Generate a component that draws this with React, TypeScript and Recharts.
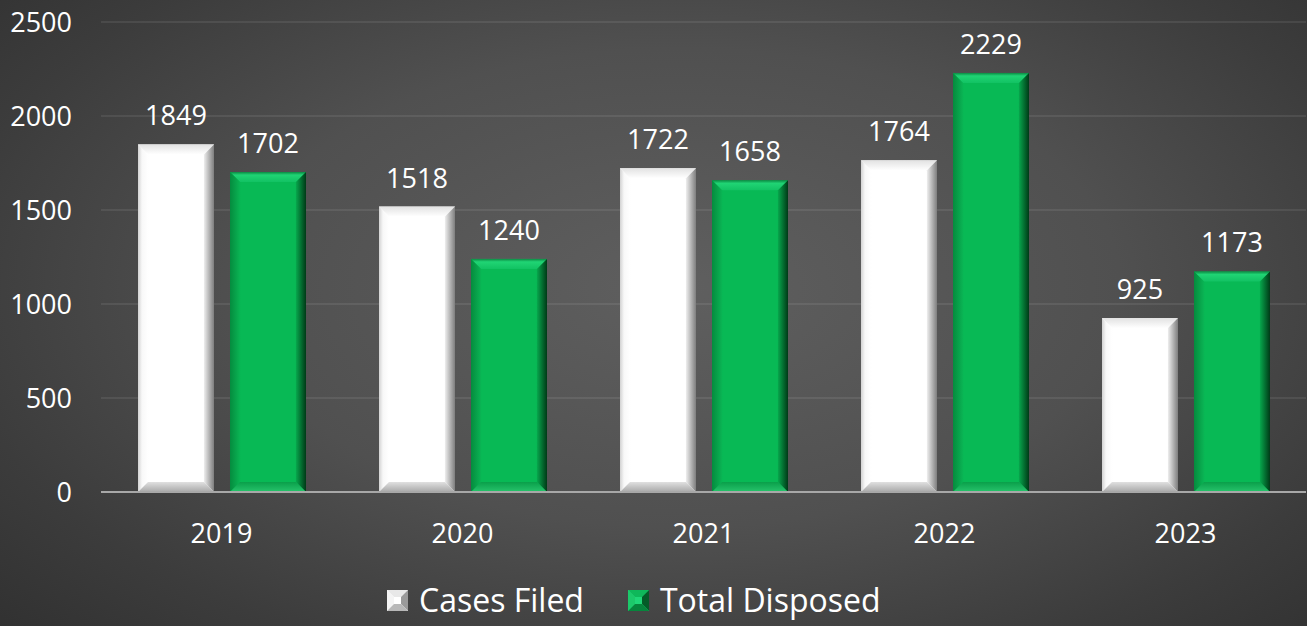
import React from "react";
import { Bar, BarChart, CartesianGrid, LabelList, Legend, XAxis, YAxis } from "recharts";

const years = ["2019", "2020", "2021", "2022", "2023"];
const casesFiled = [1849, 1518, 1722, 1764, 925];
const totalDisposed = [1702, 1240, 1658, 2229, 1173];
const yTicks = [0, 500, 1000, 1500, 2000, 2500];

const data = years.map((year, i) => ({ year, filed: casesFiled[i], disposed: totalDisposed[i] }));

const font = '"Open Sans", "Noto Sans", sans-serif';
const tick = { fill: "#ffffff", fontSize: 27 };

// bevelled bar, like the office "3-D bevel" fill
function BevelBar(props: any) {
  const { x, y, width: w, height: h, kind } = props;
  if (!h || h <= 0) return null;
  const b = Math.min(10, h / 2);
  const p = kind;
  return (
    <g>
      <rect x={x} y={y} width={w} height={h} fill={`url(#${p}-face)`} />
      <polygon
        points={`${x},${y} ${x + w},${y} ${x + w - b},${y + b} ${x + b},${y + b}`}
        fill={`url(#${p}-top)`}
      />
      <polygon
        points={`${x},${y} ${x + b},${y + b} ${x + b},${y + h - b} ${x},${y + h}`}
        fill={`url(#${p}-left)`}
      />
      <polygon
        points={`${x + w},${y} ${x + w},${y + h} ${x + w - b},${y + h - b} ${x + w - b},${y + b}`}
        fill={`url(#${p}-right)`}
      />
      <polygon
        points={`${x},${y + h} ${x + b},${y + h - b} ${x + w - b},${y + h - b} ${x + w},${y + h}`}
        fill={`url(#${p}-bottom)`}
      />
    </g>
  );
}

function Gradients() {
  return (
    <svg width={0} height={0} style={{ position: "absolute" }}>
      <defs>
        <linearGradient id="white-face" x1="0" y1="0" x2="1" y2="0">
          <stop offset="0%" stopColor="#fbfbfb" />
          <stop offset="15%" stopColor="#ffffff" />
          <stop offset="85%" stopColor="#ffffff" />
          <stop offset="100%" stopColor="#efefef" />
        </linearGradient>
        <linearGradient id="white-top" x1="0" y1="0" x2="0" y2="1">
          <stop offset="0%" stopColor="#e2e2e2" />
          <stop offset="100%" stopColor="#ffffff" />
        </linearGradient>
        <linearGradient id="white-left" x1="0" y1="0" x2="1" y2="0">
          <stop offset="0%" stopColor="#d2d2d2" />
          <stop offset="40%" stopColor="#f8f8f8" />
          <stop offset="100%" stopColor="#ffffff" />
        </linearGradient>
        <linearGradient id="white-right" x1="0" y1="0" x2="1" y2="0">
          <stop offset="0%" stopColor="#eeeeee" />
          <stop offset="100%" stopColor="#7e7e7e" />
        </linearGradient>
        <linearGradient id="white-bottom" x1="0" y1="0" x2="0" y2="1">
          <stop offset="0%" stopColor="#e0e0e0" />
          <stop offset="100%" stopColor="#a8a8a8" />
        </linearGradient>

        <linearGradient id="green-face" x1="0" y1="0" x2="1" y2="0">
          <stop offset="0%" stopColor="#06a94c" />
          <stop offset="15%" stopColor="#08b955" />
          <stop offset="85%" stopColor="#08b955" />
          <stop offset="100%" stopColor="#069e47" />
        </linearGradient>
        <linearGradient id="green-top" x1="0" y1="0" x2="0" y2="1">
          <stop offset="0%" stopColor="#0b8a43" />
          <stop offset="30%" stopColor="#20d474" />
          <stop offset="100%" stopColor="#12c263" />
        </linearGradient>
        <linearGradient id="green-left" x1="0" y1="0" x2="1" y2="0">
          <stop offset="0%" stopColor="#058b3e" />
          <stop offset="100%" stopColor="#0ab454" />
        </linearGradient>
        <linearGradient id="green-right" x1="0" y1="0" x2="1" y2="0">
          <stop offset="0%" stopColor="#07a64c" />
          <stop offset="100%" stopColor="#003a17" />
        </linearGradient>
        <linearGradient id="green-bottom" x1="0" y1="0" x2="0" y2="1">
          <stop offset="0%" stopColor="#0a9f4a" />
          <stop offset="100%" stopColor="#27c46c" />
        </linearGradient>
      </defs>
    </svg>
  );
}

function LegendIcon({ kind }: { kind: string }) {
  const s = 21;
  const b = 7;
  const c = kind === "white" ? ["#e8e8e8", "#f4f4f4", "#9a9a9a", "#b8b8b8", "#ffffff"] : ["#0fb85a", "#1cc96a", "#045c28", "#06853c", "#1fd777"];
  return (
    <svg width={s} height={s} style={{ display: "block" }}>
      <rect width={s} height={s} fill={c[4]} />
      <polygon points={`0,0 ${s},0 ${s - b},${b} ${b},${b}`} fill={c[0]} />
      <polygon points={`0,0 ${b},${b} ${b},${s - b} 0,${s}`} fill={c[1]} />
      <polygon points={`${s},0 ${s},${s} ${s - b},${s - b} ${s - b},${b}`} fill={c[2]} />
      <polygon points={`0,${s} ${b},${s - b} ${s - b},${s - b} ${s},${s}`} fill={c[3]} />
    </svg>
  );
}

function LegendContent() {
  const items = [
    { kind: "white", label: "Cases Filed" },
    { kind: "green", label: "Total Disposed" }
  ];
  return (
    <div style={{ display: "flex", alignItems: "center", gap: 44, fontFamily: font, fontSize: 32, color: "#ffffff" }}>
      {items.map((it) => (
        <div key={it.label} style={{ display: "flex", alignItems: "center", gap: 11 }}>
          <LegendIcon kind={it.kind} />
          <span style={{ lineHeight: "40px", whiteSpace: "nowrap" }}>{it.label}</span>
        </div>
      ))}
    </div>
  );
}

export default function App() {
  return (
    <div
      style={{
        position: "absolute",
        top: 0,
        left: 0,
        width: 1307,
        height: 626,
        background: "radial-gradient(ellipse 75% 85% at 52% 46%, #5f5f5f 0%, #505050 45%, #3c3c3c 75%, #2e2e2e 100%)"
      }}
    >
      <Gradients />
      <BarChart
        width={1307}
        height={626}
        data={data}
        margin={{ top: 22, right: 1, left: 0, bottom: 0 }}
        barSize={76}
        barGap={16}
        style={{ fontFamily: font }}
      >
        <CartesianGrid vertical={false} stroke="rgba(255,255,255,0.16)" strokeWidth={1.2} />
        <XAxis
          dataKey="year"
          height={134}
          tick={tick}
          tickLine={false}
          tickSize={0}
          tickMargin={32}
          axisLine={{ stroke: "#a8a8a8", strokeWidth: 2 }}
        />
        <YAxis
          width={101}
          domain={[0, 2500]}
          ticks={yTicks}
          tick={tick}
          tickLine={false}
          tickSize={0}
          tickMargin={29}
          axisLine={false}
        />
        <Legend
          layout="horizontal"
          verticalAlign="middle"
          align="center"
          wrapperStyle={{ top: 580, left: 387, width: 600 }}
          content={() => <LegendContent />}
        />
        <Bar dataKey="filed" name="Cases Filed" fill="#ffffff" shape={(p: any) => <BevelBar {...p} kind="white" />} isAnimationActive={false}>
          <LabelList dataKey="filed" position="top" offset={19} fill="#ffffff" fontSize={27} />
        </Bar>
        <Bar dataKey="disposed" name="Total Disposed" fill="#08b955" shape={(p: any) => <BevelBar {...p} kind="green" />} isAnimationActive={false}>
          <LabelList dataKey="disposed" position="top" offset={19} fill="#ffffff" fontSize={27} />
        </Bar>
      </BarChart>
    </div>
  );
}
